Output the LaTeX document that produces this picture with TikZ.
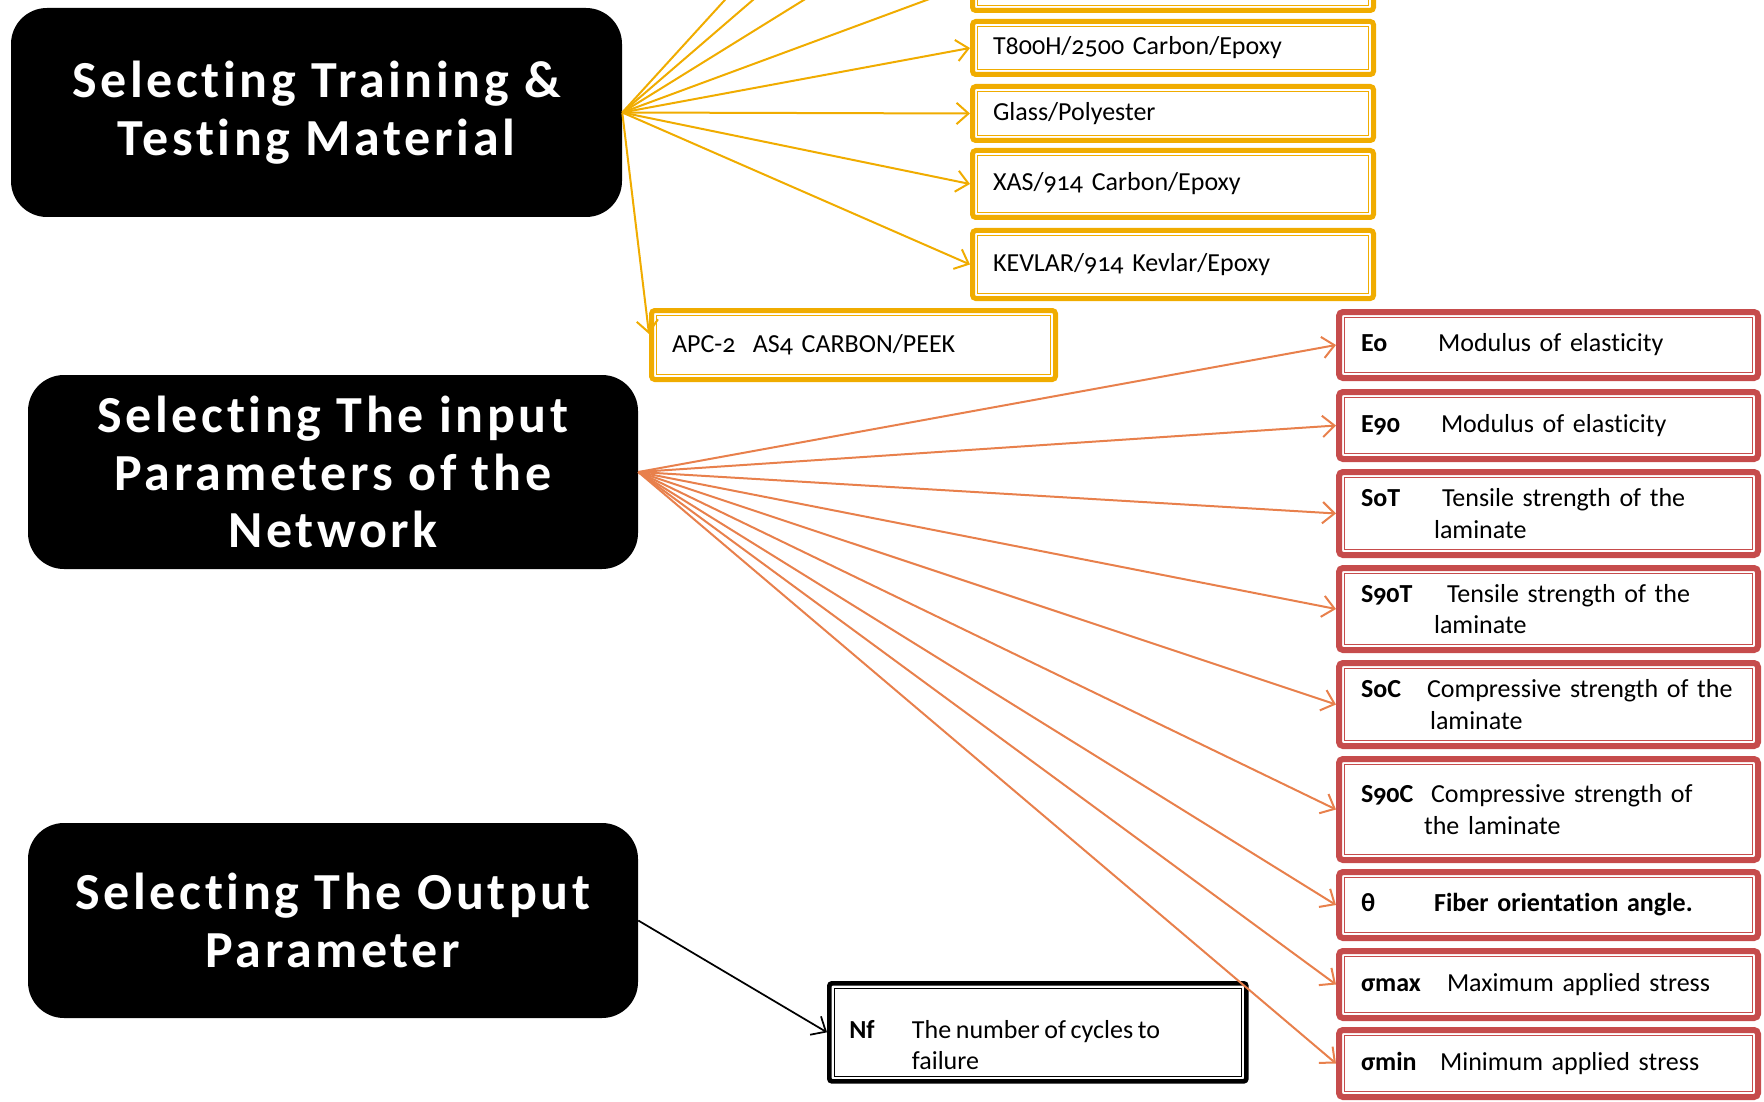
\documentclass[tikz,border=0pt]{standalone}
\usepackage{fontspec}
\setmainfont{Carlito}[Numbers=OldStyle, Ligatures=NoCommon, WordSpace=0.8]
\newfontfamily\titlefont{Carlito}[LetterSpace=7, Ligatures=NoCommon]
\usetikzlibrary{arrows.meta,calc}
\definecolor{ylw}{RGB}{240,172,0}
\definecolor{rd}{RGB}{198,76,76}
\definecolor{org}{RGB}{232,128,76}
\newcommand\rbone[3]{\makebox[#2][l]{\bfseries #1}#3}
\newcommand\rbtwo[5]{\makebox[#2][l]{\bfseries #1}#3\\\hspace*{#4}#5}
\newcommand\innerbox[3]{\draw[#1] ($(#2.north west)+(#3,-#3)$) rectangle ($(#2.south east)+(-#3,#3)$);}
\begin{document}
\begin{tikzpicture}[x=0.75pt,y=-0.75pt,
  title/.style={fill=black, rounded corners=27pt, text=white, align=center, inner sep=0pt,
    font=\titlefont\bfseries\fontsize{39}{43}\selectfont},
  bodyfont/.style={font=\fontsize{19.5}{23.5}\selectfont},
  ybox/.style={draw=ylw, line width=3.75pt, rounded corners=2.5pt, fill=white, anchor=north west,
    inner xsep=15.4pt, inner ysep=0pt, align=left, bodyfont},
  rbox/.style={draw=rd, line width=4.5pt, rounded corners=3pt, fill=white, anchor=north west,
    inner xsep=16.5pt, inner ysep=0pt, text width=281.25pt, align=left, bodyfont},
  yinner/.style={draw=ylw, line width=1.1pt},
  rinner/.style={draw=rd, line width=1.1pt},
  kinner/.style={draw=black, line width=1pt},
  yarr/.style={draw=ylw, line width=1.5pt, -{Straight Barb[length=9pt,width=16pt]}},
  oarr/.style={draw=org, line width=1.5pt, -{Straight Barb[length=9pt,width=16pt]}},
  karr/.style={draw=black, line width=1.3pt, -{Straight Barb[length=9pt,width=16pt]}},
]
\path[use as bounding box, clip] (0,0) rectangle (1764,1102);

% title boxes
\node[title, minimum width=458.25pt, minimum height=156.75pt] (t1) at (316.5,112.5)
  {Selecting Training \&\\Testing Material};
\node[title, minimum width=457.5pt, minimum height=145.5pt] (t2) at (333,472)
  {Selecting The input\\Parameters of the\\Network};
\node[title, minimum width=457.5pt, minimum height=146.25pt] (t3) at (333,920.5)
  {Selecting The Output\\Parameter};

% yellow boxes
\node[ybox, text width=270pt, minimum height=39.75pt] (ytop) at (970,-45) {};
\node[ybox, text width=270pt, minimum height=39.75pt] (t800) at (970,19) {T800H/2500 Carbon/Epoxy};
\node[ybox, text width=270pt, minimum height=40.5pt] (glass) at (970,84) {Glass/Polyester};
\node[ybox, text width=270pt, minimum height=50.25pt] (xas) at (970,148) {XAS/914 Carbon/Epoxy};
\node[ybox, text width=270pt, minimum height=51pt] (kev) at (970,228) {KEVLAR/914 Kevlar/Epoxy};
\node[ybox, text width=272.2pt, minimum height=51.75pt] (apc) at (649,308) {APC-2\ \ AS4 CARBON/PEEK};
\foreach \n in {ytop,t800,glass,xas,kev,apc} {\innerbox{yinner}{\n}{5.8pt}}

% red boxes
\node[rbox, minimum height=49.5pt] (eo) at (1336,309) {\rbone{Eo}{57.8pt}{Modulus of elasticity}};
\node[rbox, minimum height=50.25pt] (e90) at (1336,389) {\rbone{E90}{60pt}{Modulus of elasticity}};
\node[rbox, minimum height=62.25pt] (s0t) at (1336,469) {\rbtwo{SoT}{60.8pt}{Tensile strength of the}{54.8pt}{laminate}};
\node[rbox, minimum height=61.5pt] (s90t) at (1336,565) {\rbtwo{S90T}{64.5pt}{Tensile strength of the}{54.8pt}{laminate}};
\node[rbox, minimum height=62.25pt] (s0c) at (1336,660) {\rbtwo{SoC}{49.5pt}{Compressive strength of the}{51.8pt}{laminate}};
\node[rbox, minimum height=75.75pt] (s90c) at (1336,756) {\rbtwo{S90C}{52.5pt}{Compressive strength of}{47.3pt}{the laminate}};
\node[rbox, minimum height=49.5pt] (th) at (1336,869) {\rbone{θ}{54.8pt}{\bfseries Fiber orientation angle.}};
\node[rbox, minimum height=50.25pt] (smax) at (1336,948) {\rbone{σmax}{64.5pt}{Maximum applied stress}};
\node[rbox, minimum height=50.25pt] (smin) at (1336,1027) {\rbone{σmin}{59.3pt}{Minimum applied stress}};
\foreach \n in {eo,e90,s0t,s90t,s0c,s90c,th,smax,smin} {\innerbox{rinner}{\n}{6.5pt}}

% output box
\node[draw=black, line width=3.5pt, rounded corners=2pt, fill=white, anchor=north west,
  minimum width=312.75pt, minimum height=73.5pt, inner sep=0pt] (nf) at (827,981) {};
\innerbox{kinner}{nf}{5.5pt}
\node[anchor=base west, inner sep=0pt, bodyfont] (nft) at (849,1038)
  {\begin{tabular}[t]{@{}l@{}}\makebox[47pt][l]{\bfseries Nf}The number of cycles to\\\hspace*{47pt}failure\end{tabular}};

% off-page ends
\coordinate (ya) at (816,-100);
\coordinate (yb) at (869,-100);
\coordinate (yc) at (965,-100);

% yellow arrows
\foreach \e in {ya,yb,yc} \draw[yarr] (t1.east) -- (\e);
\foreach \n in {ytop,t800,glass,xas,kev} \draw[yarr] (t1.east) -- (\n.west);
\draw[yarr] (t1.east) -- ([yshift=8.25pt]apc.west);

% orange arrows
\foreach \n in {eo,e90,s0t,s90t,s0c,s90c,th,smax,smin} \draw[oarr] (t2.east) -- (\n.west);

% black arrow
\draw[karr] (t3.east) -- (nf.west);
\end{tikzpicture}
\end{document}
